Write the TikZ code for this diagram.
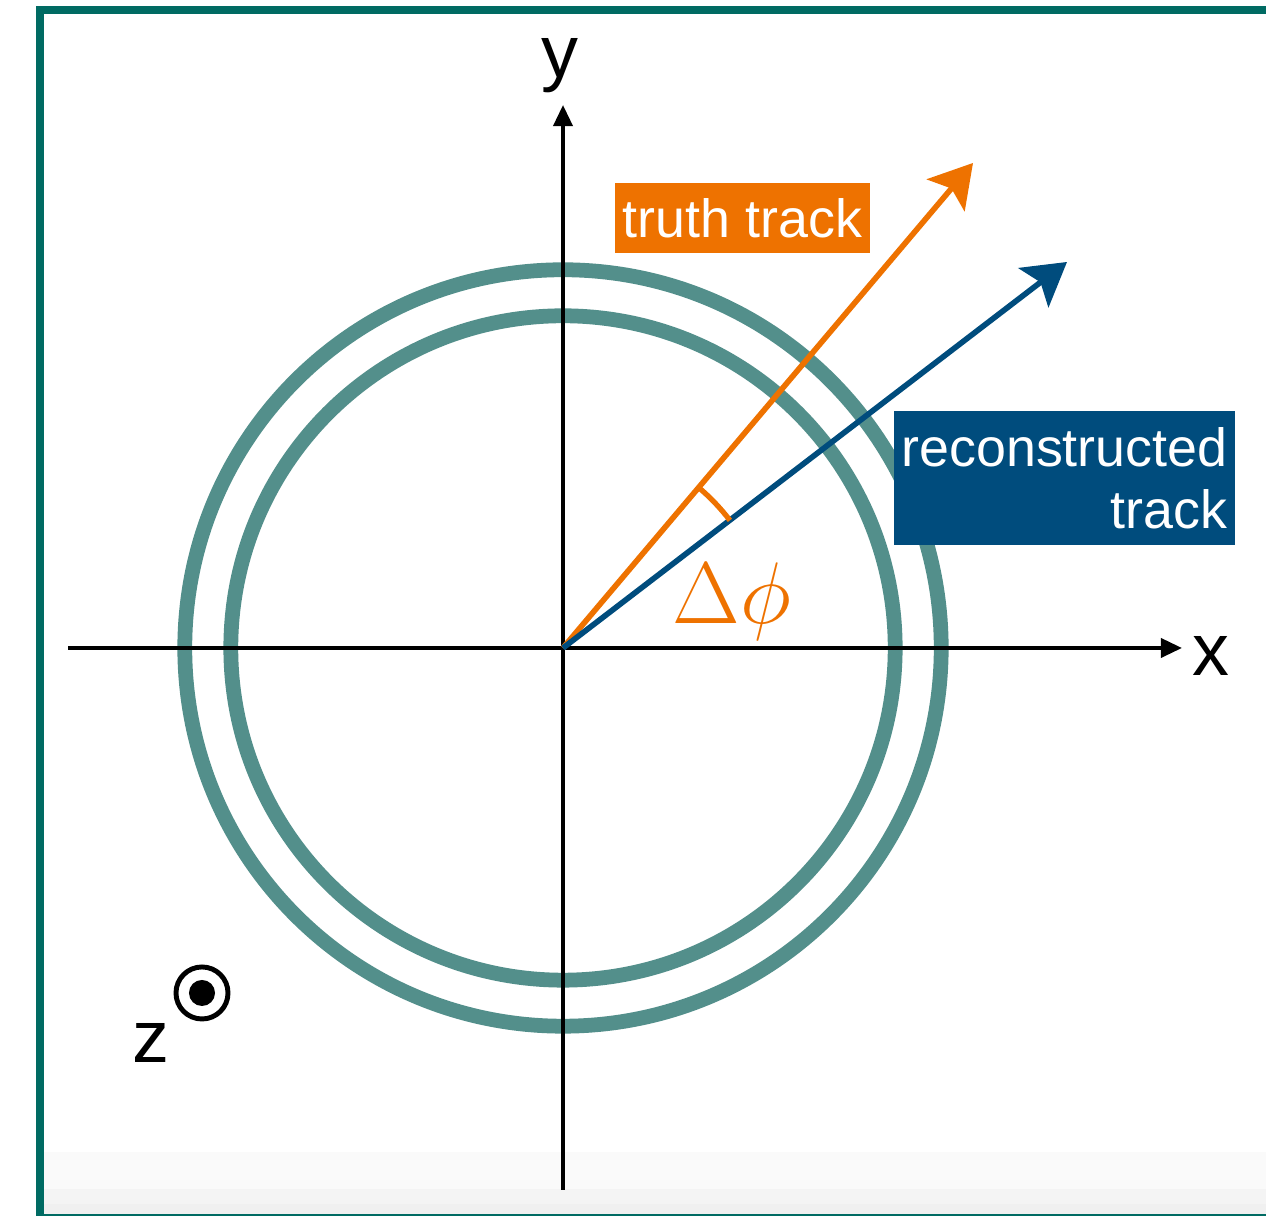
\documentclass[tikz,border=0pt]{standalone}
\usepackage[no-math]{fontspec}
\setmainfont{Liberation Sans}
\usepackage{amsmath}
\usepackage{xcolor}
\usetikzlibrary{arrows.meta, positioning, calc}
\definecolor{framegreen}{RGB}{0,107,99}
\definecolor{ringteal}{RGB}{83,143,139}
\definecolor{truthorange}{RGB}{238,114,0}
\definecolor{recoblue}{RGB}{0,76,125}

\begin{document}
\begin{tikzpicture}[x=0.01cm, y=0.01cm,
    axis/.style={line width=1.1pt, -{Triangle[length=6pt, width=5.4pt]}},
    ring/.style={ringteal, line width=4.2pt},
    track/.style={line width=1.6pt, -{Stealth[length=12pt, width=14pt, inset=2.5pt]}},
    tag/.style={text=white, inner sep=0pt, font=\fontsize{15.3}{17.6}\selectfont},
    axislabel/.style={font=\fontsize{21}{24}\selectfont}]
            \useasboundingbox (0,0) rectangle (1266,1216);
            % frame and shaded bottom
            \fill[black!2] (44,27) rectangle (1266,64);
            \fill[black!4.5] (44,12) rectangle (1266,27);
            \fill[black!6] (44,2) rectangle (1266,12);
            \draw[framegreen, line width=0.6pt] (44,1) -- (1266,1);
            \draw[framegreen, line width=2.27pt] (40,0) -- (40,1210);
            \draw[framegreen, line width=2.27pt] (36,1206) -- (1266,1206);

            % detector layers
            \coordinate (O) at (563,568);
            \draw[ring] (O) circle[radius=3.78cm];
            \draw[ring] (O) circle[radius=3.32cm];

            % axes
            \coordinate (xl) at (68,568);
            \coordinate (xr) at (1182,568);
            \coordinate (yb) at (563,26);
            \coordinate (yt) at (563,1111);
            \draw[axis] (xl) -- (xr);
            \draw[axis] (yb) -- (yt);
            \node[axislabel] (xlab) at (1211,560) {x};
            \node[axislabel] (ylab) at (560,1150) {y};

            % tracks
            \coordinate (truth) at (973,1053);
            \coordinate (reco) at (1067,954);
            \draw[track, truthorange] (O) -- (truth);
            \draw[track, recoblue] (O) -- (reco);
            \draw[truthorange, line width=1.5pt] ($(O)+(49.8:2.1cm)$) arc[start angle=49.8, end angle=37.4, radius=2.1cm];
            \node[text=truthorange, font=\fontsize{23}{27}\selectfont] (dphi) at (732,614) {$\Delta\phi$};

            \node[tag, fill=truthorange, minimum width=2.55cm, minimum height=0.7cm] (truthtag) at (742.5,998) {truth track};
            \node[tag, fill=recoblue, minimum width=3.41cm, minimum height=1.34cm, align=right] (recotag) at (1064.5,738) {reconstructed\\track};

            % z out of the page
            \node[axislabel] (zlab) at (151,173) {z};
            \node[circle, draw, line width=1.4pt, minimum size=0.52cm, inner sep=0pt] (zdot) at (202,223) {};
            \fill (zdot.center) circle[radius=0.13cm];
        \end{tikzpicture}
\end{document}
